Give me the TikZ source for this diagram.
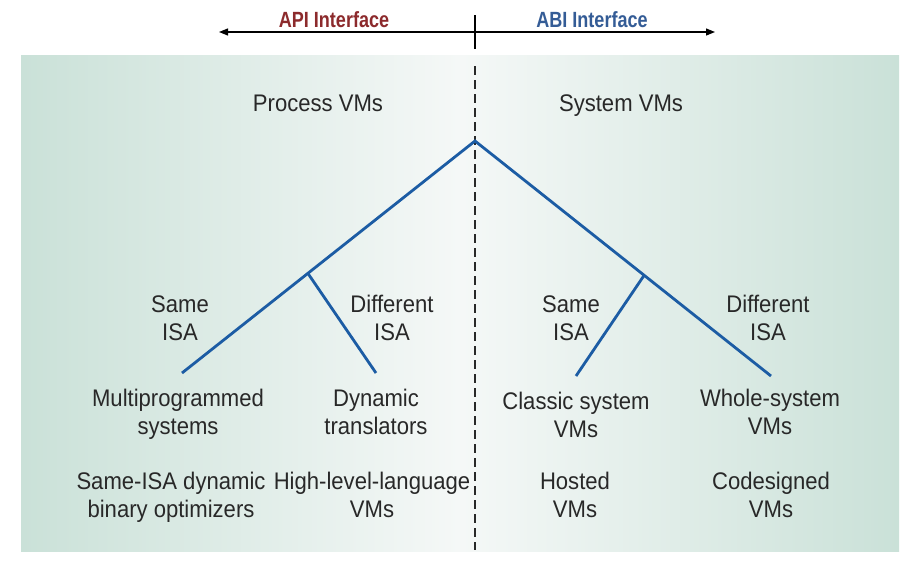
\documentclass[tikz,border=0pt]{standalone}
\usepackage{fontspec}
\setmainfont{Liberation Sans}
\newfontfamily\labelfont{Liberation Sans}[FakeStretch=0.92]
\newfontfamily\headfont{Liberation Sans}[FakeStretch=0.82]
\usetikzlibrary{arrows.meta}
\definecolor{bgedge}{RGB}{202,225,216}
\definecolor{bgmid}{RGB}{245,248,247}
\definecolor{branch}{RGB}{28,92,164}
\definecolor{apired}{RGB}{140,42,44}
\definecolor{abiblue}{RGB}{52,92,150}
\definecolor{ink}{RGB}{40,40,40}
\tikzset{
  lbl/.style={font=\labelfont\fontsize{24}{28}\selectfont, text=ink, align=center, inner sep=0pt},
  head/.style={font=\headfont\bfseries\fontsize{22}{24}\selectfont, inner sep=0pt},
  tree/.style={draw=branch, line width=2.8pt},
}
\begin{document}
\begin{tikzpicture}[x=1pt,y=-1pt]
\useasboundingbox (0,0) rectangle (924,571);
% shaded panel
\shade[left color=bgedge, right color=bgedge, middle color=bgmid] (21,55) rectangle (899,551);

% interface axis
\coordinate (axl) at (219,32);
\coordinate (axr) at (715,32);
\coordinate (tickt) at (475,15);
\coordinate (tickb) at (475,49);
\draw[line width=1.2pt, -{Triangle[length=9pt,width=7pt]}] (tickb |- axl) -- (axr);
\draw[line width=1.2pt, -{Triangle[length=9pt,width=7pt]}] (tickb |- axl) -- (axl);
\draw[line width=1.1pt] (tickt) -- (tickb);
\node[head, text=apired, anchor=base] (api) at (334,27) {API Interface};
\node[head, text=abiblue, anchor=base] (abi) at (592,27) {ABI Interface};

% divider
\coordinate (divt) at (475,66);
\coordinate (divb) at (475,550);
\draw[ink, line width=1.2pt, dash pattern=on 9pt off 5pt] (divt) -- (divb);

% categories
\node[lbl, anchor=base] (pvm) at (318,111) {Process VMs};
\node[lbl, anchor=base] (svm) at (621,111) {System VMs};

% taxonomy tree
\coordinate (root) at (475,141);
\coordinate (jl) at (308,273.5);
\coordinate (jr) at (644,275.5);
\coordinate (ll) at (182,373);
\coordinate (lr) at (376,373);
\coordinate (rl) at (576,376);
\coordinate (rr) at (771,376);
\draw[tree, line join=miter] (ll) -- (root) -- (rr);
\draw[tree] (jl) -- (lr);
\draw[tree] (jr) -- (rl);

% branch labels
\node[lbl] (sl) at (180,318) {Same\\ISA};
\node[lbl] (dl) at (392,318) {Different\\ISA};
\node[lbl] (sr) at (571,318) {Same\\ISA};
\node[lbl] (dr) at (768,318) {Different\\ISA};

% leaves
\node[lbl] (multi) at (178,414) {Multiprogrammed\\systems};
\node[lbl] (dyn) at (376,412) {Dynamic\\translators};
\node[lbl] (classic) at (576,415) {Classic system\\VMs};
\node[lbl] (whole) at (770,412) {Whole-system\\VMs};

% examples
\node[lbl] (sameisa) at (171,497) {Same-ISA dynamic\\binary optimizers};
\node[lbl] (hll) at (372,495) {High-level-language\\VMs};
\node[lbl] (hosted) at (575,495) {Hosted\\VMs};
\node[lbl] (codes) at (771,495) {Codesigned\\VMs};
\end{tikzpicture}
\end{document}
